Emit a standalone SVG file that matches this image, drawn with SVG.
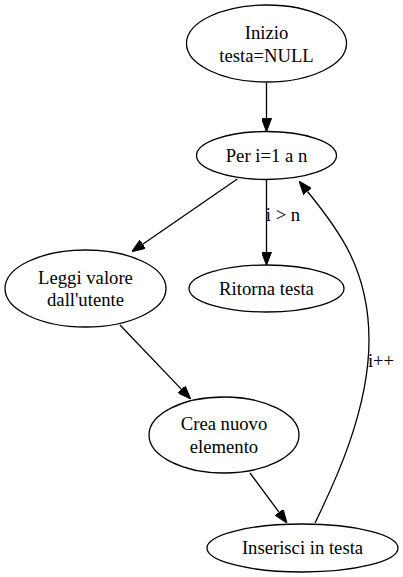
<svg xmlns="http://www.w3.org/2000/svg" width="403" height="577" viewBox="0 0 403 577">
<defs>
<marker id="ah" viewBox="0 0 13.3 10" refX="0" refY="5" markerWidth="13.3" markerHeight="10" markerUnits="userSpaceOnUse" orient="auto">
<path d="M0,0 L13.3,5 L0,10 z" fill="#000" stroke="#000" stroke-width="1"/>
</marker>
<style>
.n ellipse{fill:#fff;stroke:#000;stroke-width:1.3}
text{font-family:"Liberation Serif","Times New Roman",serif;font-size:18.67px;fill:#000}
.n text{text-anchor:middle}
#edges path{fill:none;stroke:#000;stroke-width:1.3;marker-end:url(#ah)}
</style>
</defs>
<rect width="403" height="577" fill="#fff"/>
<g id="edges">
<path d="M266.5,83 L266.5,118.4"/>
<path d="M237.3,179 L142.7,244.2"/>
<path d="M266.5,179.5 L266.5,252"/>
<path d="M120,325 L181.5,389.4"/>
<path d="M250,473 L279.1,512.3"/>
<path d="M315,523 C335,482 369,410 369,340 C369,270 339,230 307.5,191.5"/>
<text x="283" y="221" text-anchor="middle">i &gt; n</text>
<text x="381" y="367" text-anchor="middle">i++</text>
</g>
<g id="inizio" class="n">
<ellipse cx="266.5" cy="43.5" rx="80" ry="38.5"/>
<text x="266.5" y="39">Inizio</text>
<text x="266.5" y="61.5">testa=NULL</text>
</g>
<g id="per" class="n">
<ellipse cx="266.5" cy="155.5" rx="70" ry="24"/>
<text x="266.5" y="161.5">Per i=1 a n</text>
</g>
<g id="leggi" class="n">
<ellipse cx="85.5" cy="288.5" rx="80.5" ry="38.5"/>
<text x="85.5" y="283.5">Leggi valore</text>
<text x="85.5" y="306">dall'utente</text>
</g>
<g id="ritorna" class="n">
<ellipse cx="266.5" cy="288.5" rx="77.5" ry="23.5"/>
<text x="266.5" y="294.5">Ritorna testa</text>
</g>
<g id="crea" class="n">
<ellipse cx="224" cy="435" rx="75" ry="38"/>
<text x="224" y="430">Crea nuovo</text>
<text x="224" y="452.5">elemento</text>
</g>
<g id="inserisci" class="n">
<ellipse cx="302.5" cy="548" rx="95.5" ry="24"/>
<text x="302.5" y="554">Inserisci in testa</text>
</g>
</svg>
